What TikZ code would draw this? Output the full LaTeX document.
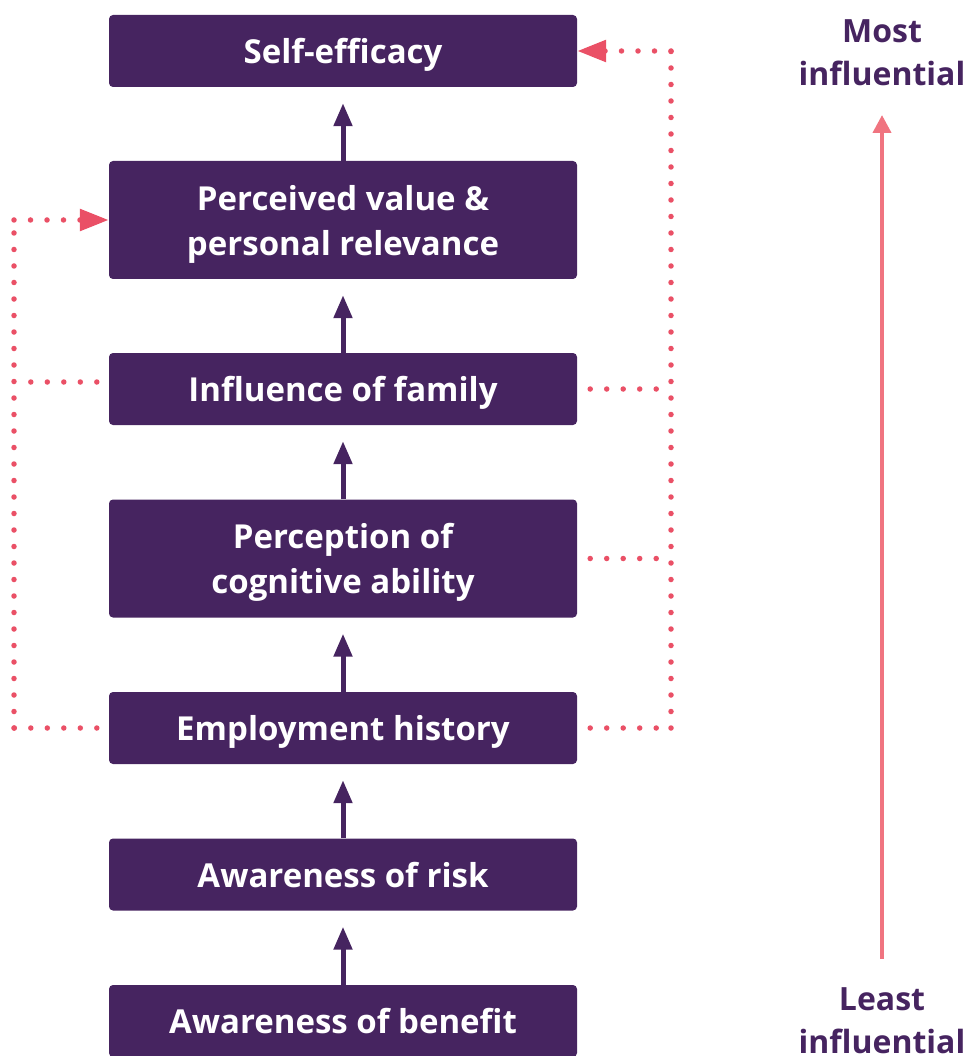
\documentclass[tikz,border=0pt]{standalone}
\usepackage{fontspec}
\setmainfont{Open Sans}
\usetikzlibrary{arrows.meta}
\definecolor{boxpurple}{RGB}{70,36,96}
\definecolor{dotred}{RGB}{234,80,102}
\definecolor{scalepink}{RGB}{240,116,128}

\begin{document}
\begin{tikzpicture}[x=1pt,y=-1pt,
  factor/.style={fill=boxpurple, text=white, rounded corners=4pt, minimum width=468pt,
    minimum height=72pt, inner sep=0pt, text depth=0pt, align=center,
    font=\fontsize{33}{45}\selectfont\bfseries},
  tall/.style={minimum height=118pt},
  stepup/.style={draw=boxpurple, line width=5pt, -{Triangle[width=18pt,length=23pt]}, shorten >=16pt},
  link/.style={dotred, line width=5.5pt, line cap=round, dash pattern=on 0pt off 16.5pt},
  linkto/.style={link, -{Triangle[width=21pt,length=29pt]}},
  rank/.style={text=boxpurple, inner sep=0pt, align=center, font=\fontsize{32}{43}\selectfont\bfseries},
  scaleup/.style={draw=scalepink, line width=4pt, -{Triangle[width=18pt,length=18pt]}}]
  \useasboundingbox (0,0) rectangle (973,1056);

  % factors, from most to least influential
  \node[factor] (self) at (343,51) {Self-efficacy};
  \node[factor, tall] (perceived) at (343,220) {Perceived value \&\\personal relevance};
  \node[factor] (influence) at (343,389) {Influence of family};
  \node[factor, tall] (perception) at (343,558.5) {Perception of\\cognitive ability};
  \node[factor] (employment) at (343,728) {Employment history};
  \node[factor] (risk) at (343,874.5) {Awareness of risk};
  \node[factor] (benefit) at (343,1021) {Awareness of benefit};

  \draw[stepup] (benefit) -- (risk);
  \draw[stepup] (risk) -- (employment);
  \draw[stepup] (employment) -- (perception);
  \draw[stepup] (perception) -- (influence);
  \draw[stepup] (influence) -- (perceived);
  \draw[stepup] (perceived) -- (self);

  % dotted feedback on the right
  \coordinate (rbot) at (671,728);
  \coordinate (rtop) at (671,51);
  \draw[link, shorten <=13pt] (employment.east) -- (rbot);
  \draw[link, shorten <=13pt] (perception.east) -- (perception.east -| rbot);
  \draw[link, shorten <=13pt] (influence.east) -- (influence.east -| rbot);
  \draw[link] (rbot) -- (rtop);
  \draw[linkto] (rtop) -- (self.east);

  % dotted feedback on the left
  \coordinate (lbot) at (14,728);
  \coordinate (ltop) at (14,220);
  \coordinate (lmid) at (30,382);
  \draw[link, shorten <=12pt] (employment.west) -- (lbot);
  \draw[link, shorten <=12pt] ([yshift=7pt]influence.west) -- (lmid);
  \draw[link] (lbot) -- (ltop);
  \draw[linkto] (ltop) -- (perceived.west);

  % scale
  \node[rank] (most) at (882,53) {Most\\influential};
  \node[rank] (least) at (882,1021) {Least\\influential};
  \draw[scaleup] (least.north) ++(0,-29) coordinate (sbot) (sbot) -- (most.south |- 0,115);
\end{tikzpicture}
\end{document}
